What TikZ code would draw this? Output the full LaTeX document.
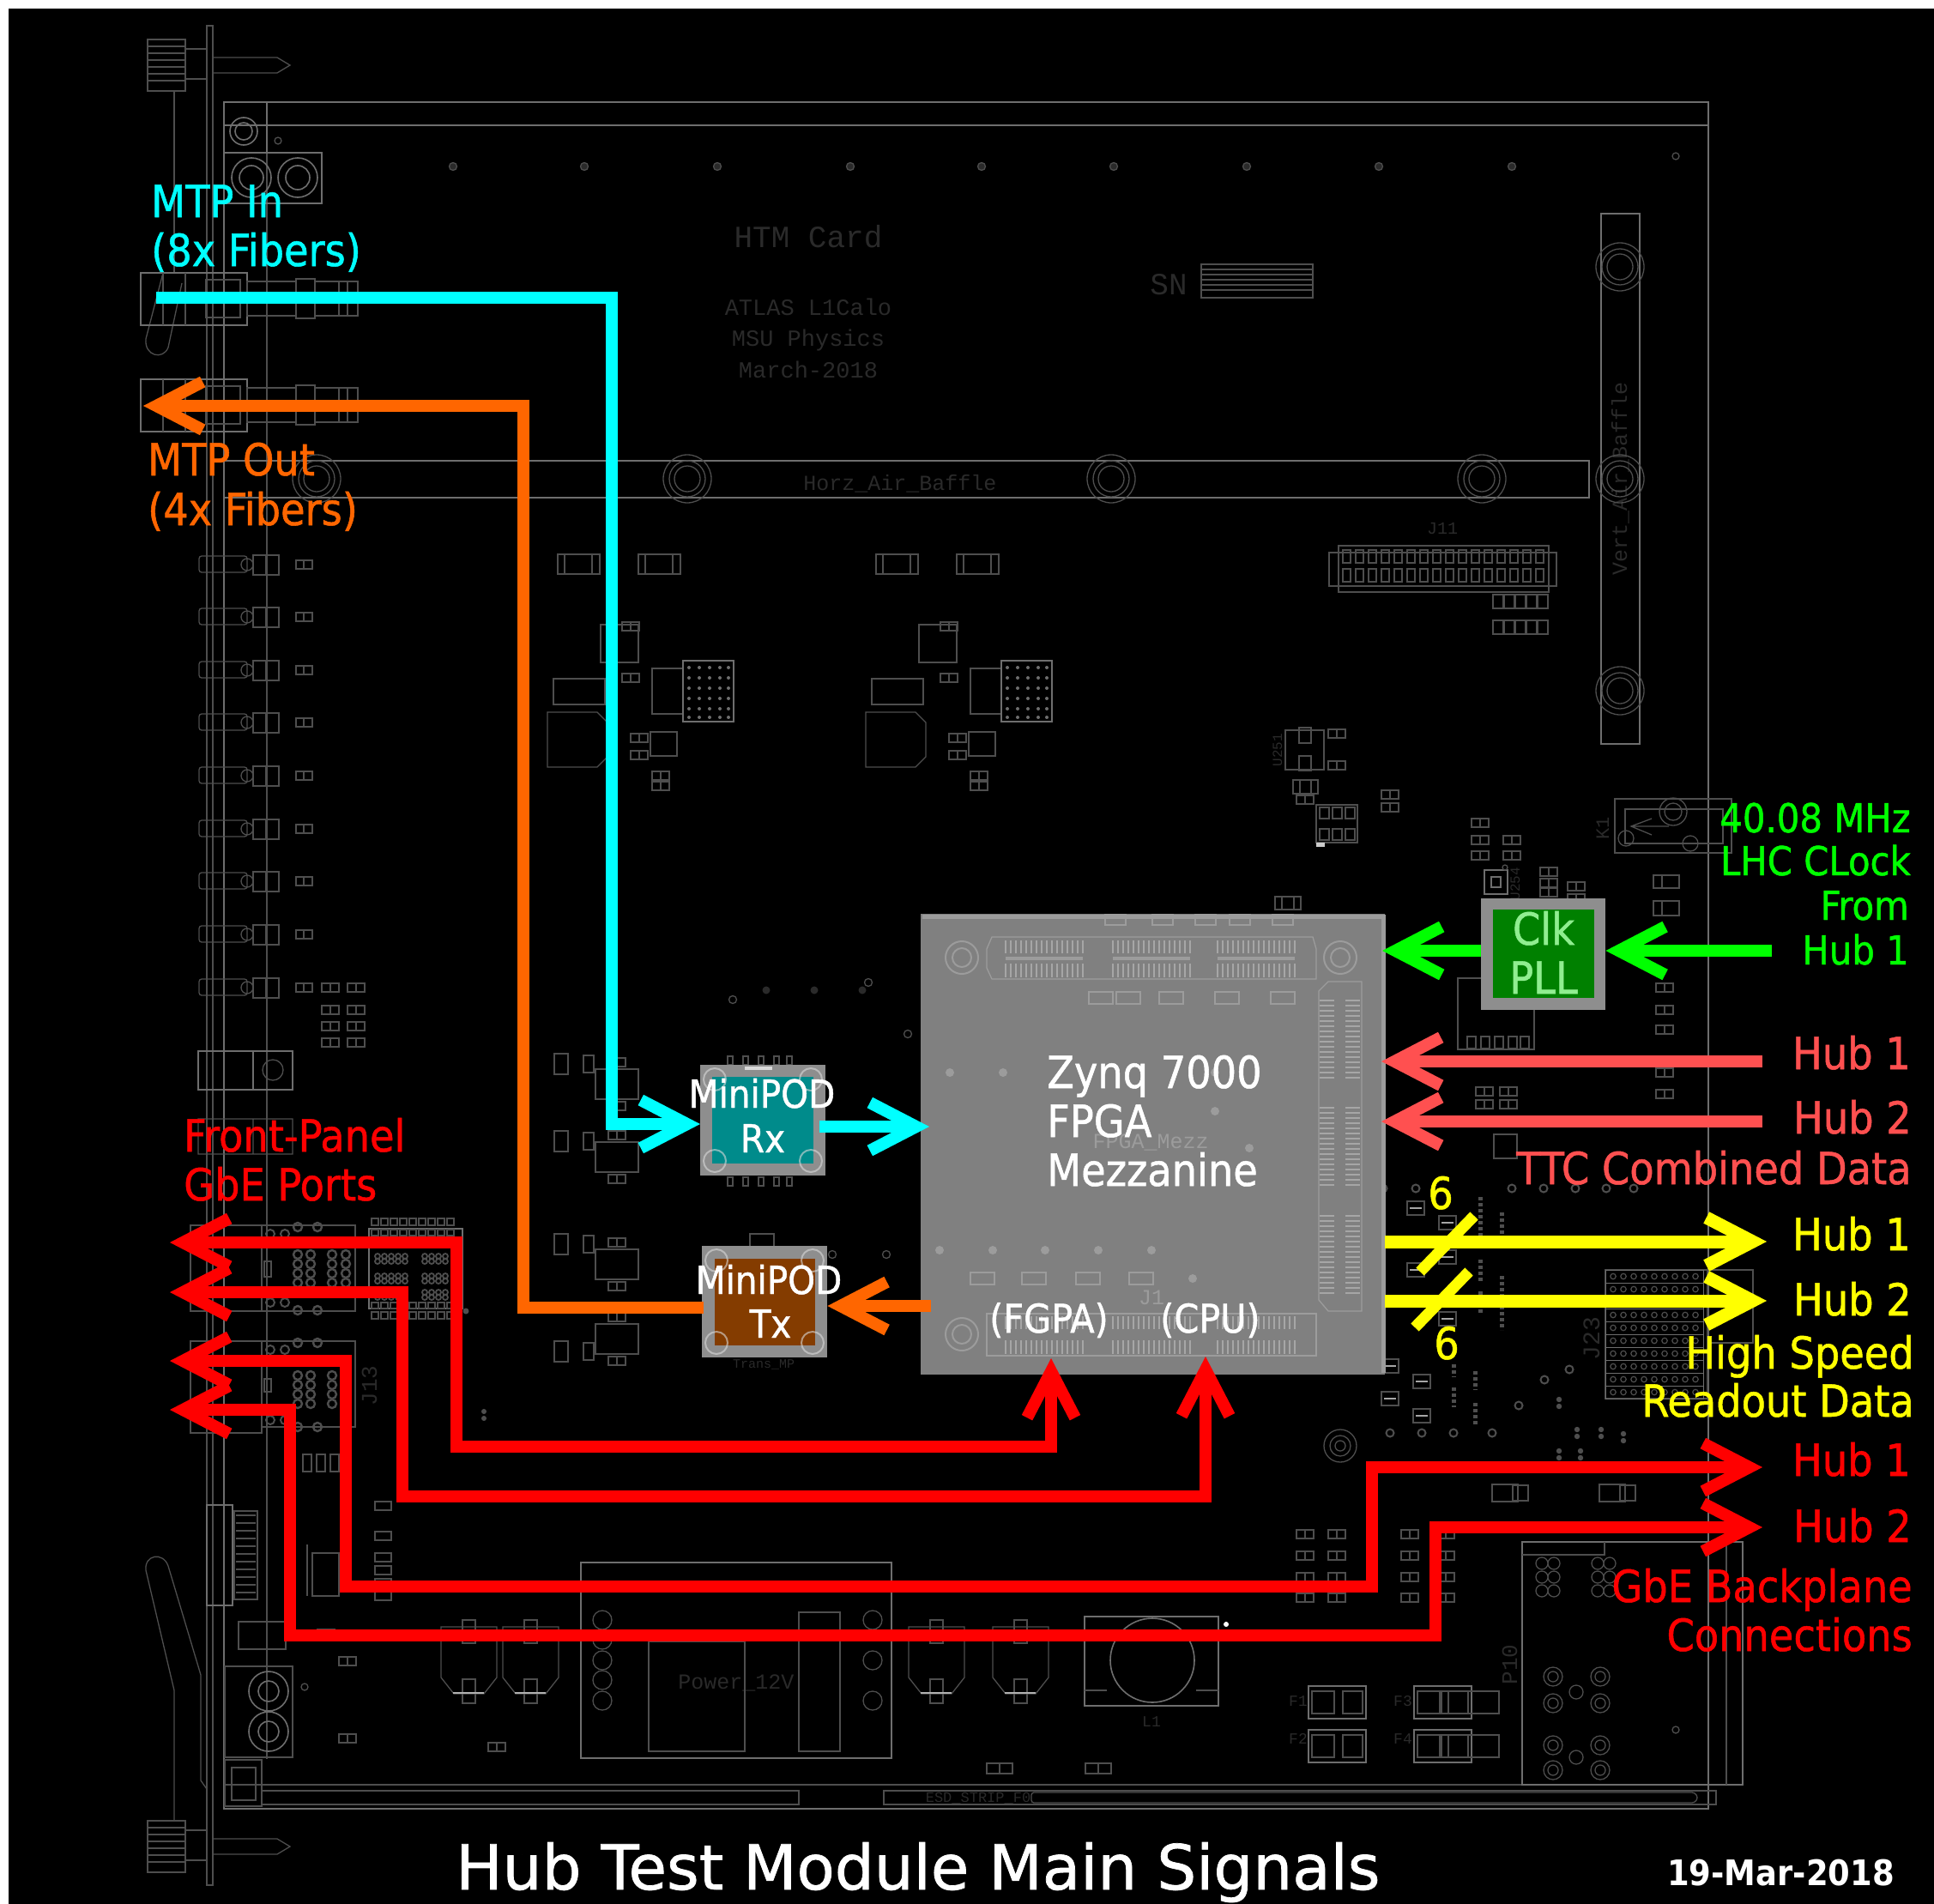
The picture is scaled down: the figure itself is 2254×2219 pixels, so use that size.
\documentclass[tikz,border=0pt]{standalone}
\usepackage{fontspec}
\setmainfont{DejaVu Sans Condensed}
\newfontfamily\lbl[FakeBold=1]{DejaVu Sans Condensed}
\newfontfamily\titlefont[FakeBold=1]{DejaVu Sans}
\newfontfamily\cadfont{Liberation Mono}
\usetikzlibrary{arrows.meta}
\newcommand{\fz}[1]{\fontsize{#1}{#1}\selectfont}
\definecolor{pcb}{HTML}{4E4E4E}
\definecolor{pcbhi}{HTML}{6E6E6E}
\definecolor{pcbtxt}{HTML}{2A2A2A}
\definecolor{zgray}{HTML}{808080}
\definecolor{zline}{HTML}{9C9C9C}
\definecolor{zpin}{HTML}{A6A6A6}
\definecolor{podgray}{HTML}{8E8E8E}
\definecolor{teal1}{HTML}{008B8B}
\definecolor{brown1}{HTML}{843C00}
\definecolor{sigcyan}{HTML}{00FFFF}
\definecolor{sigorange}{HTML}{FF6600}
\definecolor{sigred}{HTML}{FF0000}
\definecolor{sigsalmon}{HTML}{FF5050}
\definecolor{sigyellow}{HTML}{FFFF00}
\definecolor{siggreen}{HTML}{00FF00}
\definecolor{clkgreen}{HTML}{008000}
\definecolor{clktext}{HTML}{90EE90}
\tikzset{
  bg/.style={draw=pcb,line width=1.3pt,fill=none},
  bghi/.style={draw=pcbhi,line width=1.6pt,fill=none},
  zg/.style={draw=zline,line width=1.3pt,fill=none},
  cadtext/.style={text=pcbtxt,inner sep=0pt,anchor=base},
  tl/.style={anchor=base west,inner sep=0pt,font=\lbl\fz{51.5}},
  tr/.style={anchor=base east,inner sep=0pt,font=\lbl\fz{51.5}},
  tc/.style={anchor=base,inner sep=0pt,font=\lbl\fz{51.5}},
  sig/.style={line width=14pt,line join=miter,line cap=butt,
     -{Straight Barb[length=54pt,width=56pt]}},
  sigboth/.style={line width=14pt,line join=miter,line cap=butt,
     {Straight Barb[length=54pt,width=56pt]}-{Straight Barb[length=54pt,width=56pt]}},
  sigplain/.style={line width=14pt,line join=miter,line cap=butt},
}
\newcommand{\pads}[2]{\draw[bg] (#1-10,#2-5) rectangle (#1+10,#2+5) (#1,#2-5) -- (#1,#2+5);}
\newcommand{\standoff}[2]{\draw[bg] (#1,#2) circle (28) (#1,#2) circle (15) (#1,#2) circle (21);}
\begin{document}
\begin{tikzpicture}[x=1pt,y=-1pt]
\useasboundingbox (0,0) rectangle (2254,2219);
\fill[white] (0,0) rectangle (2254,2219);
\fill[black] (10,10) rectangle (2254,2219);

% ---- PCB background ----
\draw[bghi] (261,146) -- (261,119) -- (1991,119) -- (1991,146) -- cycle;
\draw[bghi] (261,146) -- (261,2108) -- (1991,2108) -- (1991,146);
\draw[bg] (261,2080) -- (1991,2080);
\draw[bg] (241,30) -- (241,2197) -- (248,2197) -- (248,30) -- cycle;
\draw[bg] (311,178) -- (311,2050);
% top screw + arrow
\draw[bg] (172,46) rectangle (216,106) (216,57) rectangle (241,92);
\foreach \y in {54,62,70,78,86,94} {\draw[bg] (172,\y) -- (216,\y);}
\draw[bg] (248,67) -- (323,67) -- (338,76) -- (323,85) -- (248,85);
\draw[bg] (203,106) -- (203,318);
% bottom screw + arrow
\draw[bg] (172,2122) rectangle (216,2182) (216,2133) rectangle (241,2168);
\foreach \y in {2130,2138,2146,2154,2162,2170} {\draw[bg] (172,\y) -- (216,\y);}
\draw[bg] (248,2143) -- (323,2143) -- (338,2152) -- (323,2161) -- (248,2161);
\draw[bg] (203,2122) -- (203,1970) -- (170,1830) .. controls (168,1812) and (190,1808) .. (196,1825) -- (234,1952) -- (234,2075) -- (241,2085);
% latch top
\draw[bg] (190,318) -- (170,395) .. controls (168,415) and (190,420) .. (196,405) -- (212,330);
% top-left holes
\draw[bghi] (261,119) rectangle (311,178) (261,178) rectangle (375,237);
\draw[bghi] (284,153) circle (16) (284,153) circle (10);
\draw[bghi] (293,207) circle (23) (293,207) circle (14) (347,207) circle (23) (347,207) circle (14);
\draw[bg] (324,164) circle (4);
% dots row
\foreach \x in {528,681,836,991,1144,1298,1453,1607,1762} {\draw[bg,fill=pcbtxt] (\x,194) circle (4.5);}
\draw[bg] (1953,182) circle (4);
% CAD text
\node[cadtext,font=\cadfont\fz{36}] (htm) at (942,288) {HTM Card};
\node[cadtext,font=\cadfont\fz{27}] (atl) at (942,367) {ATLAS L1Calo};
\node[cadtext,font=\cadfont\fz{27}] (msu) at (942,403) {MSU Physics};
\node[cadtext,font=\cadfont\fz{27}] (mar) at (942,440) {March-2018};
\node[cadtext,font=\cadfont\fz{25}] (hzb) at (1049,571) {Horz\_Air\_Baffle};
\node[cadtext,font=\cadfont\fz{36}] (sn) at (1362,343) {SN};
\node[cadtext,font=\cadfont\fz{25},rotate=90] (vrt) at (1896,558) {Vert\_Air\_Baffle};
\node[cadtext,font=\cadfont\fz{25}] (pwr) at (858,1968) {Power\_12V};
\node[cadtext,font=\cadfont\fz{20}] (j11) at (1681,622) {J11};
\node[cadtext,font=\cadfont\fz{26},rotate=90] (j13) at (439,1615) {J13};
\node[cadtext,font=\cadfont\fz{28},rotate=90] (j23) at (1864,1560) {J23};
\node[cadtext,font=\cadfont\fz{26},rotate=90] (p10) at (1768,1940) {P10};
\node[cadtext,font=\cadfont\fz{22},rotate=90] (k1) at (1875,965) {K1};
\node[cadtext,font=\cadfont\fz{17}] (esd) at (1140,2100) {ESD\_STRIP\_F0};
\node[cadtext,font=\cadfont\fz{18}] (l1) at (1342,2012) {L1};
\node[cadtext,font=\cadfont\fz{16},rotate=90] (u251) at (1494,874) {U251};
\node[cadtext,font=\cadfont\fz{16},rotate=90] (u254) at (1771,1030) {U254};
\foreach \x/\y/\t in {1523/2003/F1,1523/2047/F2,1645/2003/F3,1645/2047/F4}{\node[cadtext,font=\cadfont\fz{18}] at (\x-10,\y-15) {\t};}
% SN block
\draw[bg] (1400,308) rectangle (1530,347);
\foreach \y in {314,320,326,332,338} {\draw[bg] (1400,\y) -- (1530,\y);}
% baffles
\draw[bghi] (261,537) rectangle (1852,580);
\draw[bghi] (1866,249) rectangle (1911,867);
\foreach \x/\y in {369/558,801/558,1295/558,1727/558,1888/311,1888/558,1888/805} {\standoff{\x}{\y}}
% MTP connectors
\foreach \y in {318,442}{
  \draw[bghi] (164,\y) rectangle (288,\y+61);
  \draw[bg] (190,\y) -- (190,\y+61) (216,\y) -- (216,\y+61) (240,\y+8) rectangle (280,\y+52);
  \draw[bg] (288,\y+10) rectangle (345,\y+50) (345,\y+7) rectangle (367,\y+53) (367,\y+10) rectangle (417,\y+50);
  \draw[bg] (395,\y+10) -- (395,\y+50) (405,\y+10) -- (405,\y+50);
}
% LED rows
\foreach \y in {658,719,781,842,904,966,1027,1089,1151}{
  \draw[bg,rounded corners=3pt] (232,\y-10) rectangle (288,\y+9);
  \draw[bg] (288,\y) circle (7);
  \draw[bg] (295,\y-11) rectangle (325,\y+12) (310,\y-11) -- (310,\y+12);
  \draw[bg] (345,\y-5) rectangle (364,\y+5) (354,\y-5) -- (354,\y+5);
}
\foreach \y in {1151,1177,1196,1215} {\pads{385}{\y}\pads{415}{\y}}
% connector block below LEDs
\draw[bghi] (231,1225) rectangle (295,1270) (295,1225) rectangle (341,1270);
\draw[bg] (318,1247) circle (12) (231,1304) rectangle (295,1345) (295,1304) rectangle (341,1345);
% J11
\draw[bg] (1549,644) rectangle (1814,683) (1560,636) rectangle (1805,690);
\foreach \x in {1565,1580,...,1795}{\draw[bg] (\x,641) rectangle (\x+9,656) (\x,663) rectangle (\x+9,678);}
\foreach \x in {1746,1759,1772,1785,1798}{\draw[bg] (\x-6,693) rectangle (\x+6,709) (\x-6,723) rectangle (\x+6,739);}
% chip groups
\foreach \s in {0,371}{
\begin{scope}[shift={(\s,0)}]
  \draw[bg] (638,830) -- (696,830) -- (708,842) -- (708,882) -- (696,894) -- (638,894) -- cycle;
  \draw[bg] (645,791) rectangle (705,821) (700,728) rectangle (744,772);
  \draw[bg] (760,779) rectangle (796,832) (758,853) rectangle (789,881);
  \draw[bghi] (796,770) rectangle (855,841);
  \foreach \a in {803,815,827,839,849}{\foreach \b in {778,790,802,814,826,836}{\fill[pcbhi] (\a,\b) circle (2);}}
  \draw[bg] (650,646) rectangle (699,669) (744,646) rectangle (793,669);
  \draw[bg] (658,646) -- (658,669) (690,646) -- (690,669) (752,646) -- (752,669) (784,646) -- (784,669);
  \foreach \x/\y in {770/904,770/916,745/860,745/880,735/730,735/790}{\pads{\x}{\y}}
\end{scope}}
% small components centre
\draw[bg] (1498,851) rectangle (1543,897) (1514,848) rectangle (1528,866) (1514,881) rectangle (1528,898);
\foreach \x/\y in {1558/855,1558/892,1521/932,1620/926,1620/941,1725/959,1725/979,1725/997,1762/979,1762/997,1805/1016,1805/1029,1805/1040,1837/1033,1837/1047}{\pads{\x}{\y}}
\draw[bg] (1507,909) rectangle (1536,925) (1515,909) -- (1515,925) (1528,909) -- (1528,925);
\draw[bg] (1534,938) rectangle (1582,982);
\foreach \x in {1538,1553,1568}{\draw[bg] (\x,941) rectangle (\x+11,954) (\x,966) rectangle (\x+11,979);}
\fill[white!80!black] (1534,982) rectangle (1544,987);
\draw[bghi] (1730,1014) rectangle (1757,1042) (1738,1022) rectangle (1749,1034);
\draw[bg] (1754,1011) circle (3);
\draw[bg] (1486,1045) rectangle (1516,1060) (1494,1045) -- (1494,1060) (1508,1045) -- (1508,1060);
\draw[bg] (1927,1020) rectangle (1957,1035) (1927,1050) rectangle (1957,1067) (1937,1020) -- (1937,1035) (1937,1050) -- (1937,1067);
\draw[bg] (1882,931) rectangle (2018,994) (1894,943) rectangle (2008,983);
\draw[bg] (1950,946) circle (16) (1950,946) circle (10) (1895,977) circle (9) (1970,983) circle (9);
\draw[bg] (1925,954) -- (1901,963) -- (1925,973) (1901,963) -- (1945,963);
\draw[bg] (1699,1140) rectangle (1788,1223);
\foreach \x in {1710,1726,1742,1758,1772}{\draw[bg] (\x,1208) rectangle (\x+10,1222);}
\foreach \y in {1151,1177,1200,1250,1275}{\pads{1940}{\y}}
\foreach \x/\y in {1730/1272,1758/1272,1730/1287,1758/1287,1811/1165,1840/1165}{\pads{\x}{\y}}
\draw[bg] (1741,1322) rectangle (1768,1350);
% pods surroundings
\foreach \x/\y in {694/1241,694/1326,694/1451,694/1538}{
  \draw[bg] (\x,\y+5) rectangle (\x+50,\y+40);
  \pads{\x+25}{\y+48}\pads{\x+25}{\y-3}
}
\foreach \y in {1240,1330,1450,1575}{\draw[bg] (646,\y-12) rectangle (662,\y+12) (680,\y-10) rectangle (692,\y+10);}
\draw[bg] (1012,1145) circle (4.5) (854,1165) circle (4.5) (1058,1205) circle (4.5);
\foreach \x in {893,949,1005}{\fill[pcbtxt] (\x,1154) circle (4.5);}
\foreach \x/\y in {970/1462,1033/1462}{\draw[bg] (\x,\y) circle (4.5);}
\foreach \x in {848,866,884,902,917}{\draw[bg] (\x,1231) rectangle (\x+6,1241) (\x,1372) rectangle (\x+6,1382);}
\draw[bg] (874,1438) rectangle (902,1453);
\node[cadtext,font=\cadfont\fz{15}] (trm) at (890,1594) {Trans\_MP};
% front-panel connectors
\draw[bg] (222,1428) rectangle (305,1528) (305,1428) rectangle (414,1528);
\draw[bg] (222,1563) rectangle (305,1670) (305,1563) rectangle (414,1663);
\foreach \x in {347,362,387,403}{\foreach \y in {1462,1473,1484,1495}{\draw[bg,line width=2.4pt] (\x,\y) circle (5);}}
\foreach \x in {347,362,387}{\foreach \y in {1603,1614,1625,1636}{\draw[bg,line width=2.4pt] (\x,\y) circle (5);}}
\foreach \y in {1430,1527,1565,1663}{\draw[bg,line width=2.4pt] (347,\y) circle (5) (370,\y) circle (5);}
\foreach \y in {1438,1518,1573,1655}{\draw[bg,line width=2pt] (315,\y) circle (5) (332,\y) circle (5);}
\draw[bg] (308,1470) rectangle (316,1488) (308,1607) rectangle (316,1622);
\draw[bghi] (430,1432) rectangle (539,1525);
\foreach \x in {437,448,...,532}{
  \draw[bg] (\x-4,1420) rectangle (\x+4,1428) (\x-4,1433) rectangle (\x+4,1440) (\x-4,1518) rectangle (\x+4,1525) (\x-4,1529) rectangle (\x+4,1537);
}
\foreach \y in {1467,1490,1509}{
  \foreach \x in {440,448,...,475}{\draw[bg,line width=1.8pt] (\x,\y-3) circle (3) (\x,\y+3) circle (3);}
  \foreach \x in {495,503,...,522}{\draw[bg,line width=1.8pt] (\x,\y-3) circle (3) (\x,\y+3) circle (3);}
}
\fill[pcb] (543,1528) circle (3.5) (564,1645) circle (3) (564,1653) circle (3);
\foreach \x in {358,374,390}{\draw[bg] (\x-5,1695) rectangle (\x+5,1715);}
% lower-left connector
\draw[bghi] (241,1754) rectangle (271,1871);
\draw[bg] (273,1761) rectangle (300,1864);
\foreach \y in {1766,1775,...,1860}{\draw[bg] (275,\y) -- (298,\y);}
\draw[bg] (278,1890) rectangle (333,1922);
\draw[bg] (262,1942) rectangle (341,2048);
\draw[bghi] (313,1971) circle (23) (313,1971) circle (12) (313,2018) circle (23) (313,2018) circle (12);
\draw[bg] (355,1966) circle (4);
\draw[bg] (262,2051) rectangle (305,2105) (270,2060) rectangle (298,2098);
\draw[bg] (305,2087) rectangle (931,2103);
\draw[bg] (1030,2087) rectangle (2000,2103);
\draw[bg,rounded corners=3pt] (1202,2089) -- (1975,2089) -- (1979,2095) -- (1975,2101) -- (1202,2101) -- cycle;
% pads left lower
\foreach \y in {1755,1790,1815,1830,1845,1860}{\draw[bg] (437,\y-5) rectangle (456,\y+5);}
\draw[bg] (358,1800) -- (358,1860) (364,1810) rectangle (395,1860);
\foreach \x/\y in {405/1936,380/1904,579/2036,405/2026}{\pads{\x}{\y}}
% power section
\draw[bghi] (677,1821) rectangle (1039,2049);
\draw[bg] (756,1913) rectangle (868,2041) (931,1879) rectangle (979,2041);
\foreach \y in {1888,1911,1935,1958,1982}{\draw[bg] (702,\y) circle (11);}
\foreach \y in {1888,1935,1982}{\draw[bg] (1017,\y) circle (11);}
% caps
\foreach \x in {514,586,1059,1157}{
 \draw[bg] (\x,1896) -- (\x+65,1896) -- (\x+65,1955) -- (\x+50,1974) -- (\x+15,1974) -- (\x,1955) -- cycle;
 \draw[bg] (\x+25,1888) rectangle (\x+40,1915) (\x+25,1957) rectangle (\x+40,1985);
 \draw[white!70!black,line width=2pt] (\x+14,1973) -- (\x+50,1973);
}
\draw[bghi] (1264,1884) rectangle (1420,1988);
\draw[bghi] (1343,1935) circle (49);
\draw[bg] (1264,1900) -- (1290,1900) (1420,1900) -- (1394,1900) (1264,1970) -- (1290,1970) (1420,1970) -- (1394,1970);
\fill[white] (1429,1893) circle (3);
\foreach \x in {1525,1648}{\foreach \y in {1965,2016}{
 \draw[bghi] (\x,\y) rectangle (\x+67,\y+38);
 \draw[bg] (\x+4,\y+6) rectangle (\x+30,\y+32) (\x+40,\y+6) rectangle (\x+63,\y+32);
}}
\foreach \y in {1965,2016}{\draw[bg] (1680,\y+6) rectangle (1747,\y+32);}
\foreach \x/\y in {1165/2061,1280/2061}{\draw[bg] (\x-15,\y-6) rectangle (\x+15,\y+6) (\x,\y-6) -- (\x,\y+6);}
\foreach \x in {1521,1558,1643,1685}{\foreach \y in {1788,1813,1838,1862}{\pads{\x}{\y}}}
% P10
\draw[bghi] (1774,1797) rectangle (2031,2080);
\draw[bg] (1774,1812) -- (1870,1812) -- (1870,1797) (2012,1797) -- (2012,2080);
\foreach \x in {1804,1869}{\foreach \y in {1822,1838,1854}{\draw[bg] (\x-7,\y) circle (7) (\x+7,\y) circle (7);}}
\foreach \x/\y in {1810/1954,1865/1954,1810/1985,1865/1985,1810/2034,1865/2034,1810/2063,1865/2063}{\draw[bg] (\x,\y) circle (11) (\x,\y) circle (6);}
\draw[bg] (1837,1972) circle (8) (1837,2048) circle (8) (1953,2016) circle (4);
% J23
\draw[bg] (1871,1480) rectangle (1990,1630) (1990,1480) rectangle (2043,1565);
\foreach \y in {1480,1495,...,1615}{
  \draw[pcbhi,line width=1pt] (1871,\y) rectangle (1985,\y+15);
  \foreach \x in {1880,1892,...,1980}{\draw[pcb,line width=1.2pt] (\x,\y+7.5) circle (3.2);}
}
% ring vias and pad columns right of Zynq
\foreach \x/\y in {1612/1385,1650/1385,1762/1385,1799/1385,1836/1385,1872/1385,1904/1385,1620/1670,1657/1670,1694/1670,1739/1670,1829/1596,1800/1608,1770/1638}{\draw[bg,line width=2pt] (\x,\y) circle (4.5);}
\foreach \x/\a/\b in {1725/1395/1455,1750/1413/1440,1725/1468/1495,1750/1487/1550,1725/1505/1530,1694/1590/1605,1694/1617/1640,1719/1598/1620,1719/1635/1660}{
  \draw[pcb,line width=5pt,dash pattern=on 4pt off 3pt] (\x,\a) -- (\x,\b);
}
\foreach \x/\y in {1650/1408,1687/1425,1687/1465,1650/1480,1687/1537,1620/1592,1657/1610,1620/1630,1657/1650}{
  \draw[bg] (\x-10,\y-8) rectangle (\x+10,\y+8);
  \draw[white!65!black,line width=1.5pt] (\x-7,\y) -- (\x+7,\y);
}
\foreach \x/\y in {1817/1635,1838/1670,1866/1670,1892/1675,1817/1695,1842/1695}{\fill[pcb] (\x,\y-4) circle (3.2) (\x,\y+4) circle (3.2);}
\draw[bg] (1562,1685) circle (19) (1562,1685) circle (12) (1562,1685) circle (6);
\foreach \x in {1754,1879}{\draw[bg] (\x-15,1730) rectangle (\x+15,1750);}
\foreach \x in {1772,1897}{\draw[bg] (\x-9,1731) rectangle (\x+9,1749);}

% ---- Boxes ----
\node[fill=zgray,inner sep=0pt,minimum width=541pt,minimum height=537pt,anchor=north west] (zynq) at (1073,1065) {};
\draw[zline,line width=5pt] (1075,1068) -- (1612,1068) -- (1612,1600);
% Zynq detail
\draw[zg] (1150,1106) -- (1156,1092) -- (1530,1092) -- (1534,1106) -- (1534,1141) -- (1156,1141) -- (1150,1128) -- cycle;
\draw[zg] (1150,1545) -- (1150,1580) -- (1534,1580) -- (1534,1531) -- (1150,1531) -- cycle;
\draw[zg] (1537,1155) -- (1548,1144) -- (1587,1144) -- (1587,1528) -- (1548,1528) -- (1537,1515) -- cycle;
\foreach \a in {1172,1297,1419}{
  \foreach \o in {0,6,...,90}{
    \draw[zpin,line width=2.5pt] (\a+\o,1096) -- (\a+\o,1111) (\a+\o,1123) -- (\a+\o,1139) (\a+\o,1534) -- (\a+\o,1549) (\a+\o,1562) -- (\a+\o,1578);
  }
  \draw[zline,line width=4pt] (\a,1117) -- (\a+90,1117);
}
\foreach \a in {1166,1291,1417}{
  \foreach \o in {0,6,...,90}{
    \draw[zpin,line width=2.5pt] (1538,\a+\o) -- (1555,\a+\o) (1568,\a+\o) -- (1585,\a+\o);
  }
}
\foreach \x/\y in {1121/1116,1562/1116,1121/1555}{\draw[zg,line width=2pt] (\x,\y) circle (19) (\x,\y) circle (11);}
\foreach \x/\y in {1107/1250,1169/1250,1416/1250,1416/1295,1456/1338,1095/1457,1157/1457,1218/1457,1280/1457,1342/1457,1390/1490}{\fill[zline] (\x,\y) circle (5);}
\foreach \x/\y in {1283/1163,1315/1163,1365/1163,1430/1163,1495/1163,1145/1490,1205/1490,1268/1490,1330/1490}{\draw[zg] (\x-14,\y-7) rectangle (\x+14,\y+7);}
\foreach \x/\y in {1300/1072,1355/1072,1405/1072,1445/1072,1495/1072}{\draw[zg] (\x-12,\y-6) rectangle (\x+12,\y+6);}
\node[inner sep=0pt,anchor=base,text=zline,font=\cadfont\fz{25}] (fm) at (1341,1338) {FPGA\_Mezz};
\node[inner sep=0pt,anchor=base,text=zline,font=\cadfont\fz{25}] (jone) at (1342,1520) {J1};

\node[fill=podgray,inner sep=0pt,minimum width=146pt,minimum height=129pt,anchor=north west] (rxbox) at (816,1241) {};
\node[fill=teal1,inner sep=0pt,minimum width=118pt,minimum height=101pt,anchor=north west] (rxin) at (830,1255) {};
\node[fill=podgray,inner sep=0pt,minimum width=146pt,minimum height=130pt,anchor=north west] (txbox) at (818,1452) {};
\node[fill=brown1,inner sep=0pt,minimum width=117pt,minimum height=101pt,anchor=north west] (txin) at (833,1467) {};
\foreach \x/\y in {833/1258,945/1258,833/1353,945/1353,835/1469,947/1469,835/1565,947/1565}{\draw[white!70!gray,line width=2pt,opacity=.6] (\x,\y) circle (13);}
\draw[white!70!gray,line width=4pt] (868,1245) -- (900,1245);
\node[fill=podgray,inner sep=0pt,minimum width=145pt,minimum height=130pt,anchor=north west] (clkbox) at (1726,1047) {};
\node[fill=clkgreen,inner sep=0pt,minimum width=118pt,minimum height=103pt,anchor=north west] (clkin) at (1740,1060) {};

% ---- Connector anchors ----
\coordinate (cyanS) at (182,347);
\coordinate (cyanB) at (713,1310);
\coordinate (rxOut) at (955,1313);
\coordinate (rxTip) at (1083,1313);
\coordinate (orgB) at (610,473);
\coordinate (orgT) at (167,473);
\coordinate (orgS) at (820,1524);
\coordinate (r1a) at (198,1448);
\coordinate (r1b) at (532,1686);
\coordinate (r1c) at (1225,1583);
\coordinate (r2a) at (198,1506);
\coordinate (r2b) at (469,1744);
\coordinate (r2c) at (1405,1581);
\coordinate (r3a) at (198,1586);
\coordinate (r3b) at (403,1849);
\coordinate (r3c) at (1599,1710);
\coordinate (r3d) at (2054,1710);
\coordinate (r4a) at (198,1643);
\coordinate (r4b) at (338,1906);
\coordinate (r4c) at (1673,1780);
\coordinate (r4d) at (2054,1780);
\coordinate (gS) at (2065,1108);
\coordinate (gT) at (1611,1108);
\coordinate (t1S) at (2054,1237);
\coordinate (t1T) at (1610,1237);
\coordinate (t2S) at (2054,1307);
\coordinate (t2T) at (1610,1307);
\coordinate (y1E) at (2059,1447);
\coordinate (y2E) at (2059,1516);
\coordinate (s1a) at (1718,1417);
\coordinate (s1b) at (1655,1482);
\coordinate (s2a) at (1712,1482);
\coordinate (s2b) at (1649,1547);
\coordinate (orgZ) at (1085,1522);

% ---- Signals ----
\draw[sig,sigcyan] (cyanS) -| (cyanB) -- (rxbox.west |- cyanB);
\draw[sig,sigcyan] (rxOut) -- (rxTip);
\draw[sig,sigorange] (orgS) -| (orgB) -- (orgT);
\draw[sig,sigorange] (orgZ) -- (txbox.east |- orgZ);
\draw[sigboth,sigred] (r1a) -| (r1b) -| (r1c);
\draw[sigboth,sigred] (r2a) -| (r2b) -| (r2c);
\draw[sigboth,sigred] (r3a) -| (r3b) -| (r3c) -- (r3d);
\draw[sigboth,sigred] (r4a) -| (r4b) -| (r4c) -- (r4d);
\draw[sig,siggreen] (gS) -- (clkbox.east |- gS);
\draw[sig,siggreen] (clkbox.west |- gS) -- (gT);
\draw[sig,sigsalmon] (t1S) -- (t1T);
\draw[sig,sigsalmon] (t2S) -- (t2T);
\draw[sig,line width=15pt,sigyellow] (zynq.east |- y1E) -- (y1E);
\draw[sig,line width=15pt,sigyellow] (zynq.east |- y2E) -- (y2E);
\draw[sigplain,sigyellow,line width=13pt] (s1a) -- (s1b);
\draw[sigplain,sigyellow,line width=13pt] (s2a) -- (s2b);

% ---- Labels ----
\node[tl,text=sigcyan] (a1) at (176,253) {MTP In};
\node[tl,text=sigcyan] (a2) at (176,310) {(8x Fibers)};
\node[tl,text=sigorange] (a3) at (172,554) {MTP Out};
\node[tl,text=sigorange] (a4) at (172,612) {(4x Fibers)};
\node[tl,text=sigred] (a5) at (214,1342) {Front-Panel};
\node[tl,text=sigred] (a6) at (214,1399) {GbE Ports};
\node[tr,text=siggreen,font=\lbl\fz{46.5}] (b1) at (2227,970) {40.08 MHz};
\node[tr,text=siggreen,font=\lbl\fz{46.5}] (b2) at (2227,1020) {LHC CLock};
\node[tr,text=siggreen,font=\lbl\fz{46.5}] (b3) at (2225,1072) {From};
\node[tr,text=siggreen,font=\lbl\fz{46.5}] (b4) at (2225,1124) {Hub 1};
\node[tr,text=sigsalmon] (c1) at (2227,1246) {Hub 1};
\node[tr,text=sigsalmon] (c2) at (2228,1321) {Hub 2};
\node[tr,text=sigsalmon] (c3) at (2228,1380) {TTC Combined Data};
\node[tr,text=sigyellow] (d1) at (2227,1457) {Hub 1};
\node[tr,text=sigyellow] (d2) at (2228,1533) {Hub 2};
\node[tr,text=sigyellow] (d3) at (2231,1595) {High Speed};
\node[tr,text=sigyellow] (d4) at (2231,1651) {Readout Data};
\node[tr,text=sigred] (e1) at (2227,1720) {Hub 1};
\node[tr,text=sigred] (e2) at (2228,1797) {Hub 2};
\node[tr,text=sigred] (e3) at (2229,1867) {GbE Backplane};
\node[tr,text=sigred] (e4) at (2229,1924) {Connections};
\node[tc,text=sigyellow] (f1) at (1679,1409) {6};
\node[tc,text=sigyellow] (f2) at (1686,1584) {6};
\node[tl,text=white] (z1) at (1220,1268) {Zynq 7000};
\node[tl,text=white] (z2) at (1220,1325) {FPGA};
\node[tl,text=white] (z3) at (1220,1382) {Mezzanine};
\node[tl,text=white,font=\lbl\fz{46}] (z4) at (1153,1553) {(FGPA)};
\node[tl,text=white,font=\lbl\fz{46}] (z5) at (1352,1553) {(CPU)};
\node[tc,text=white,font=\lbl\fz{45}] (p1) at (888,1291) {MiniPOD};
\node[tc,text=white,font=\lbl\fz{45}] (p2) at (889,1343) {Rx};
\node[tc,text=white,font=\lbl\fz{45}] (p3) at (896,1508) {MiniPOD};
\node[tc,text=white,font=\lbl\fz{45}] (p4) at (898,1559) {Tx};
\node[tc,text=clktext,font=\lbl\fz{51.5}] (q1) at (1799,1101) {Clk};
\node[tc,text=clktext,font=\lbl\fz{51.5}] (q2) at (1799,1158) {PLL};
\node[anchor=base west,inner sep=0pt,text=white,font=\titlefont\fz{72.4}] (ttl) at (531,2202) {Hub Test Module Main Signals};
\node[anchor=base west,inner sep=0pt,text=white,font=\bfseries\fz{41}] (dat) at (1943,2197) {19-Mar-2018};
\end{tikzpicture}
\end{document}
